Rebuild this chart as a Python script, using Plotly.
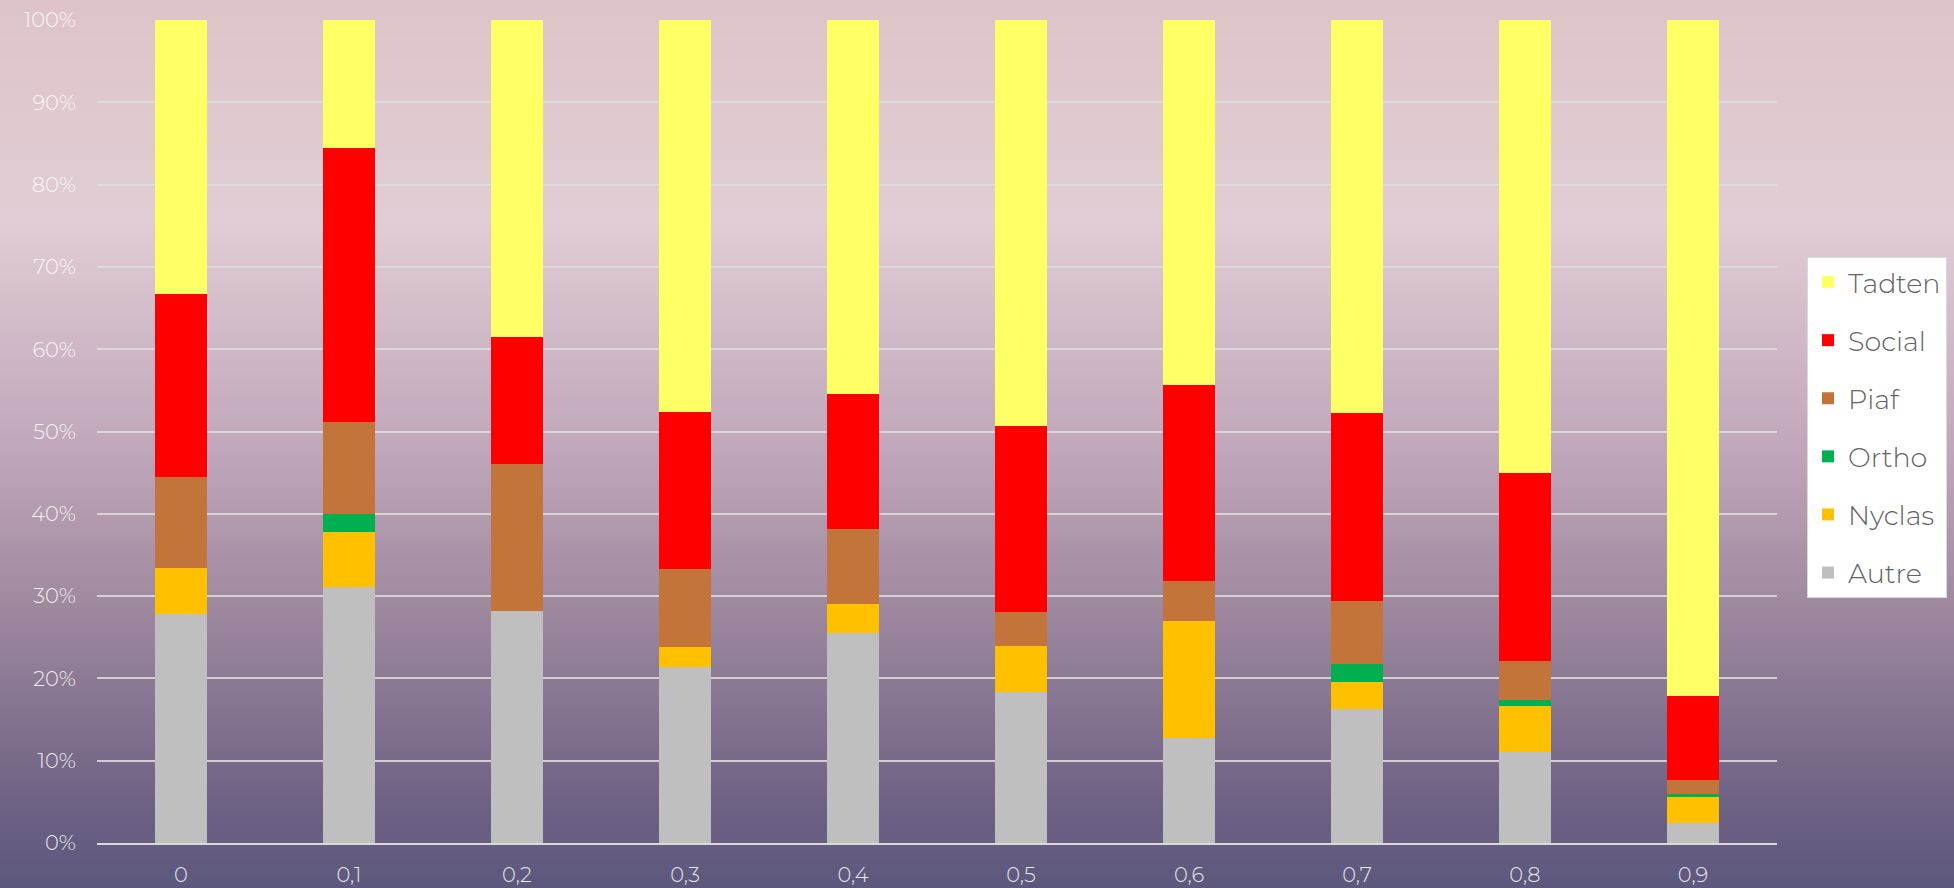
import base64
import struct
import zlib

import plotly.graph_objects as go

# ---------------- data ----------------
categories = ["0", "0,1", "0,2", "0,3", "0,4", "0,5", "0,6", "0,7", "0,8", "0,9"]
autre = [27.8, 31.1, 28.2, 21.4, 25.5, 18.3, 12.7, 16.3, 11.1, 2.4]
nyclas = [5.6, 6.7, 0.0, 2.4, 3.6, 5.6, 14.3, 3.3, 5.5, 3.25]
ortho = [0.0, 2.2, 0.0, 0.0, 0.0, 0.0, 0.0, 2.2, 0.8, 0.35]
piaf = [11.1, 11.1, 17.9, 9.5, 9.1, 4.2, 4.8, 7.6, 4.7, 1.7]
social = [22.2, 33.3, 15.4, 19.0, 16.4, 22.5, 23.8, 22.8, 22.9, 10.2]
tadten = [33.3, 15.6, 38.5, 47.6, 45.5, 49.3, 44.4, 47.8, 55.0, 82.1]
y_ticks = [0, 10, 20, 30, 40, 50, 60, 70, 80, 90, 100]
y_tick_labels = ["0%", "10%", "20%", "30%", "40%", "50%", "60%", "70%", "80%", "90%", "100%"]

series = [
    ("Autre", autre, "#bfbfbf"),
    ("Nyclas", nyclas, "#ffc000"),
    ("Ortho", ortho, "#00b050"),
    ("Piaf", piaf, "#c3743b"),
    ("Social", social, "#ff0000"),
    ("Tadten", tadten, "#ffff66"),
]

# ---------------- background gradient (PNG data URI) ----------------
W, H = 1954, 888
stops = [
    (0, (222, 196, 200)),
    (220, (225, 205, 213)),
    (450, (192, 166, 186)),
    (600, (160, 138, 160)),
    (800, (110, 98, 132)),
    (888, (93, 88, 125)),
]


def color_at(y):
    for (y0, c0), (y1, c1) in zip(stops[:-1], stops[1:]):
        if y0 <= y <= y1:
            t = (y - y0) / (y1 - y0) if y1 > y0 else 0
            return tuple(int(round(a + (b - a) * t)) for a, b in zip(c0, c1))
    return stops[-1][1]


raw = b"".join(b"\x00" + bytes(color_at(y)) for y in range(H))


def chunk(tag, data):
    return struct.pack(">I", len(data)) + tag + data + struct.pack(">I", zlib.crc32(tag + data) & 0xFFFFFFFF)


png = b"\x89PNG\r\n\x1a\n" + chunk(b"IHDR", struct.pack(">IIBBBBB", 1, H, 8, 2, 0, 0, 0)) \
    + chunk(b"IDAT", zlib.compress(raw)) + chunk(b"IEND", b"")
bg_uri = "data:image/png;base64," + base64.b64encode(png).decode()

# ---------------- layout geometry ----------------
L, R, T, B = 97, 1777, 20, 843
pw, ph = R - L, B - T

fig = go.Figure()
n_series = len(series)
for i, (name, vals, col) in enumerate(series):
    fig.add_trace(go.Bar(
        x=categories, y=vals, name=name, legendgroup=name,
        legendrank=n_series - i,
        marker=dict(color=col, line=dict(width=0)),
    ))

font_fam = "Montserrat, Lato, 'Open Sans', sans-serif"
tick_color = "rgba(255,255,255,0.88)"

fig.update_layout(
    template="none",
    width=W, height=H,
    barmode="stack", barnorm="percent", bargap=0.685,
    margin=dict(l=L, r=W - R, t=T, b=H - B, pad=0),
    paper_bgcolor="#5d587d",
    plot_bgcolor="rgba(0,0,0,0)",
    font=dict(family=font_fam, weight=300, color=tick_color),
    images=[dict(
        source=bg_uri, xref="paper", yref="paper",
        x=-L / pw, y=1 + T / ph, sizex=W / pw, sizey=H / ph,
        xanchor="left", yanchor="top", sizing="stretch", layer="below",
    )],
    xaxis=dict(
        type="category", showgrid=False, showline=True,
        linecolor="#d9d9d9", linewidth=2, ticks="",
        tickfont=dict(size=21, family=font_fam, weight=300, color=tick_color),
        ticklabelstandoff=12, automargin=False, zeroline=False,
    ),
    yaxis=dict(
        range=[0, 100], tickmode="array", tickvals=y_ticks, ticktext=y_tick_labels,
        showgrid=True, gridcolor="rgba(222,222,222,0.85)", gridwidth=1.5,
        zeroline=False, showline=False, ticks="",
        tickfont=dict(size=21, family=font_fam, weight=300, color=tick_color),
        ticklabelstandoff=20, automargin=False,
    ),
    legend=dict(
        xref="container", yref="container",
        x=1807 / W, y=1 - 257 / H, xanchor="left", yanchor="top",
        bgcolor="#ffffff", bordercolor="#d9d9d9", borderwidth=1,
        font=dict(size=27, family=font_fam, weight=300, color="#646464"),
        traceorder="grouped", tracegroupgap=20,
        itemwidth=30,
    ),
)

fig.write_html("out.html")
